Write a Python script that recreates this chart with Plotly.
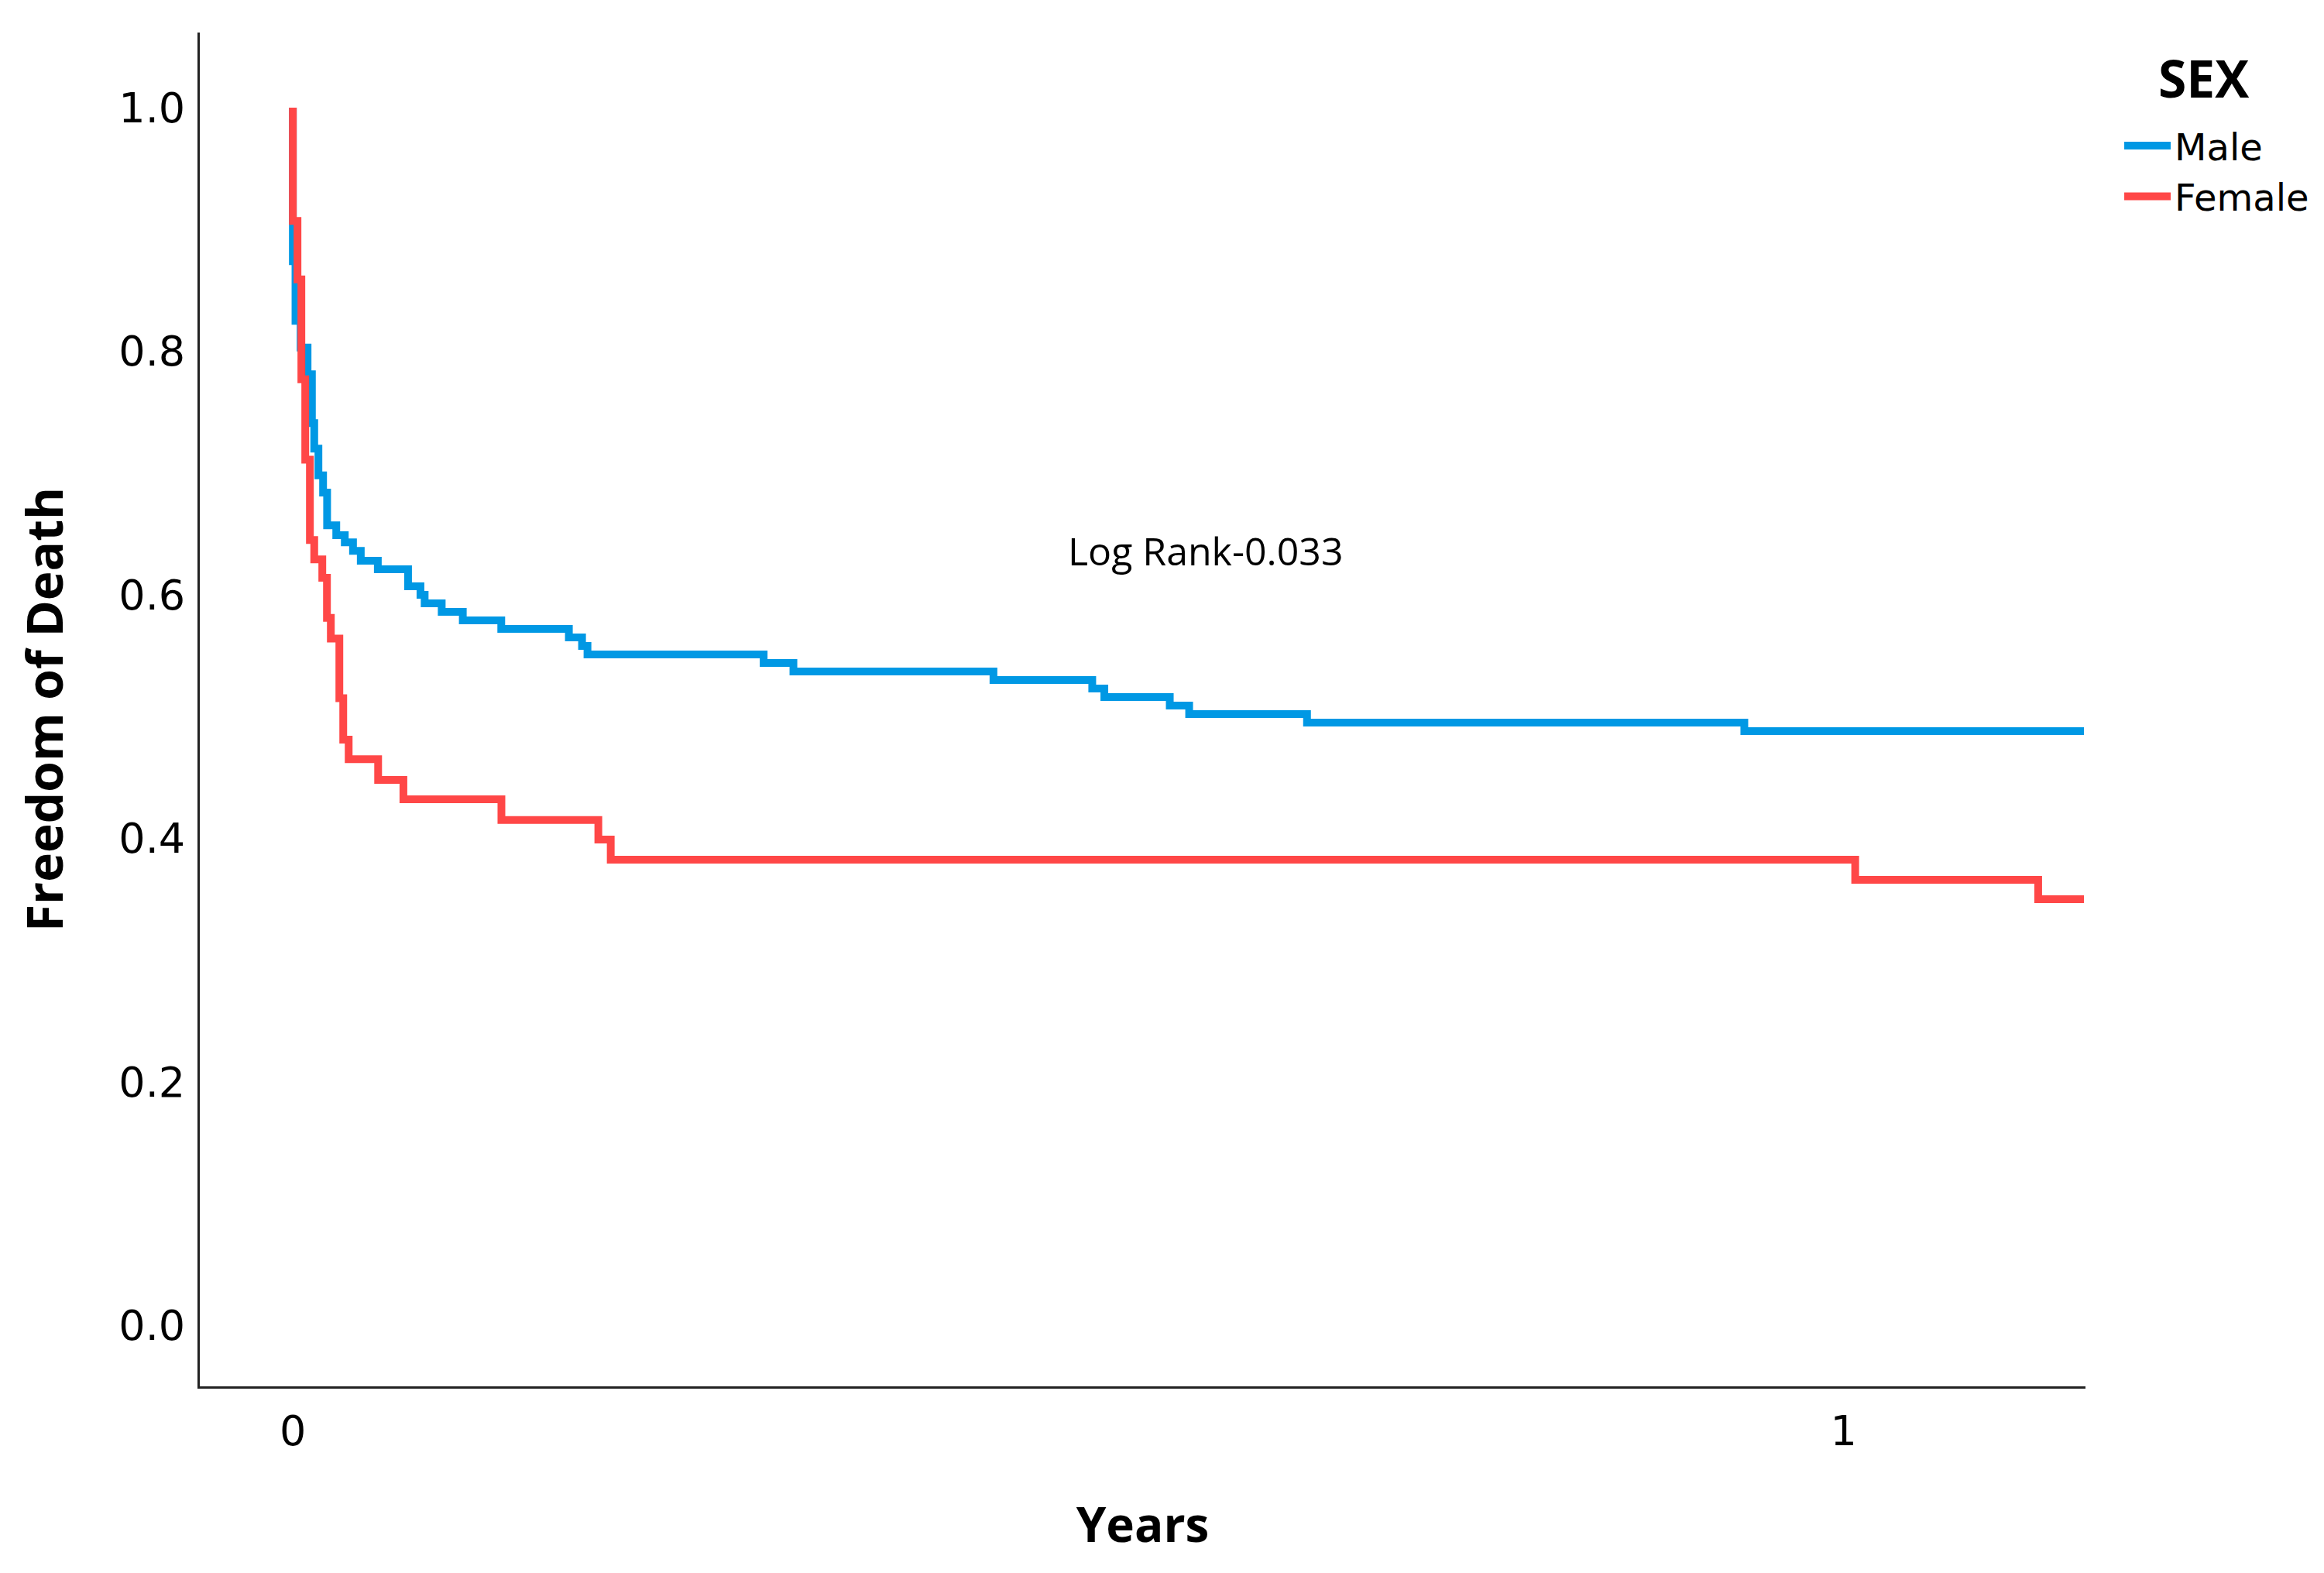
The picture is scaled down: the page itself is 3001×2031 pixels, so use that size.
import plotly.graph_objects as go

# ---- data ----
male_time = [0.0, 0.0, 0.0017, 0.005, 0.0095, 0.0123, 0.0138, 0.0165, 0.0195, 0.0221,
             0.028, 0.0335, 0.0388, 0.0438, 0.0548, 0.0743, 0.0823, 0.085, 0.096, 0.1096,
             0.1344, 0.178, 0.1865, 0.190, 0.3036, 0.3228, 0.4518, 0.5155, 0.5233, 0.5655,
             0.578, 0.654, 0.936, 1.155]
male_surv = [1.0, 0.874, 0.825, 0.803, 0.781, 0.741, 0.720, 0.698, 0.684, 0.657,
             0.649, 0.643, 0.636, 0.628, 0.621, 0.607, 0.600, 0.593, 0.586, 0.579,
             0.572, 0.565, 0.558, 0.551, 0.544, 0.537, 0.530, 0.523, 0.516, 0.509,
             0.502, 0.495, 0.488, 0.488]

female_time = [0.0, 0.0, 0.003, 0.0055, 0.008, 0.011, 0.0138, 0.019, 0.022, 0.0245,
               0.030, 0.0325, 0.036, 0.055, 0.0713, 0.1345, 0.197, 0.205, 1.0075, 1.1255,
               1.155]
female_surv = [1.0, 0.907, 0.859, 0.777, 0.711, 0.645, 0.629, 0.614, 0.581, 0.564,
               0.515, 0.481, 0.465, 0.448, 0.432, 0.415, 0.399, 0.3825, 0.366, 0.350,
               0.350]

series_names = ["Male", "Female"]
legend_title = "SEX"
x_ticks = [0, 1]
y_ticks = [0.0, 0.2, 0.4, 0.6, 0.8, 1.0]
annotation_text = "Log Rank-0.033"

BLUE = "#0098E4"
RED = "#FF4747"

fig = go.Figure()
fig.add_trace(go.Scatter(x=male_time, y=male_surv, mode="lines", name=series_names[0],
                         line=dict(color=BLUE, width=10, shape="hv")))
fig.add_trace(go.Scatter(x=female_time, y=female_surv, mode="lines", name=series_names[1],
                         line=dict(color=RED, width=10, shape="hv")))

fig.add_annotation(x=0.499, y=0.636, xref="x", yref="y", text=annotation_text,
                   showarrow=False, xanchor="left", yanchor="middle",
                   font=dict(family="Open Sans", size=50, color="black"))

# legend heading
fig.add_annotation(x=1.0628, y=0.9668, xref="paper", yref="paper", text=legend_title,
                   showarrow=False, xanchor="center", yanchor="middle",
                   font=dict(family="Open Sans", size=66, color="black", weight="bold"))

fig.update_layout(
    width=3001, height=2031,
    paper_bgcolor="white", plot_bgcolor="white",
    margin=dict(l=250, r=316, t=34, b=249),
    showlegend=True,
    legend=dict(
        x=1.0185, y=0.938, xanchor="left", yanchor="top",
        font=dict(family="DejaVu Sans", size=48, color="black"),
        bgcolor="rgba(0,0,0,0)", tracegroupgap=0, itemwidth=60,
    ),
    xaxis=dict(
        range=[-0.060, 1.156], tickvals=x_ticks, ticktext=[str(v) for v in x_ticks],
        showgrid=False, zeroline=False, showline=True, linecolor="#222", linewidth=3,
        ticks="", ticklabelstandoff=8,
        tickfont=dict(family="DejaVu Sans", size=54, color="black"),
        title=dict(text="Years", standoff=70,
                   font=dict(family="Open Sans", size=62, color="black", weight="bold")),
    ),
    yaxis=dict(
        range=[-0.050, 1.0617], tickvals=y_ticks, ticktext=[f"{v:.1f}" for v in y_ticks],
        showgrid=False, zeroline=False, showline=True, linecolor="#222", linewidth=3,
        ticks="", ticklabelstandoff=5,
        tickfont=dict(family="DejaVu Sans", size=54, color="black"),
        title=dict(text="Freedom of Death", standoff=51,
                   font=dict(family="Open Sans", size=64, color="black", weight="bold")),
    ),
)

fig.write_html("out.html")
